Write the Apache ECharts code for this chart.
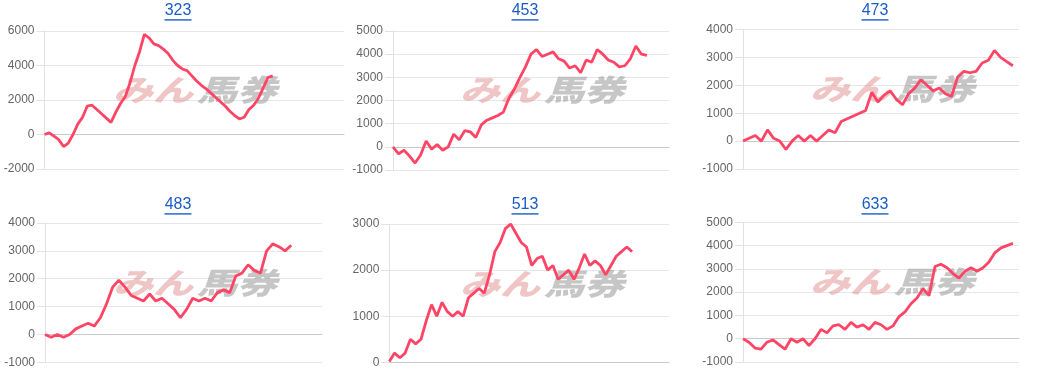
<!DOCTYPE html>
<html><head><meta charset="utf-8">
<script src="https://cdn.jsdelivr.net/npm/echarts@6/dist/echarts.min.js"></script>
<style>html,body{margin:0;padding:0;background:#fff}#c{width:1050px;height:386px}</style>
</head><body><div id="c"></div>
<script>
// ---- data ----
const titles = ['323', '453', '473', '483', '513', '633'];
const slotCounts = [64, 51, 46, 46, 54, 47];
const s323 = [0,100,-100,-300,-700,-500,0,600,1000,1650,1700,1450,1200,950,700,1300,1800,2200,3000,4000,4800,5800,5600,5250,5150,4950,4700,4300,4000,3800,3700,3400,3100,2850,2650,2400,2150,1900,1650,1350,1100,900,1000,1450,1700,2100,2700,3300,3400];
const s453 = [0,-300,-150,-400,-700,-350,250,-100,100,-150,0,550,300,700,650,400,950,1150,1250,1350,1500,2100,2500,3000,3450,4000,4200,3900,4000,4100,3800,3700,3400,3500,3200,3750,3650,4200,4000,3750,3650,3450,3500,3800,4350,4000,3950];
const s473 = [0,100,200,0,400,100,0,-300,0,200,0,200,0,200,400,300,700,800,900,1000,1100,1750,1400,1650,1800,1500,1300,1700,1900,2200,2000,1800,1900,1700,1600,2300,2500,2450,2500,2800,2900,3250,3000,2850,2700];
const s483 = [0,-100,0,-100,0,200,300,400,300,600,1100,1700,1950,1700,1400,1300,1200,1450,1200,1300,1100,900,600,900,1300,1200,1300,1200,1500,1600,1500,2100,2200,2500,2300,2200,3000,3250,3150,3000,3200];
const s513 = [20,200,100,200,500,400,500,900,1250,1000,1300,1100,1000,1100,1000,1400,1500,1600,1500,1900,2400,2600,2900,3000,2800,2600,2500,2100,2250,2300,2000,2100,1800,1900,2000,1800,2050,2350,2100,2200,2100,1900,2100,2300,2400,2500,2400];
const s633 = [0,-150,-400,-450,-150,-50,-250,-450,0,-150,0,-300,0,400,250,550,600,400,700,500,600,400,700,600,400,550,950,1150,1500,1750,2150,1850,3100,3200,3050,2800,2600,2900,3050,2900,3050,3300,3700,3900,4000,4100];
const seriesData = [s323, s453, s473, s483, s513, s633];
const yMin = [-2000, -1000, -1000, -1000, 0, -1000];
const yMax = [6000, 5000, 4000, 4000, 3000, 5000];
const yStep = [2000, 1000, 1000, 1000, 1000, 1000];
const wmPink = 'みん';
const wmGray = '馬券';

// ---- layout ----
const grids = [
  {left: 44.5, top: 31, width: 299.5, height: 138},
  {left: 393, top: 31, width: 276, height: 139},
  {left: 743, top: 29.5, width: 276, height: 139.5},
  {left: 45, top: 223, width: 277, height: 139.3},
  {left: 389.3, top: 224, width: 279.7, height: 138.3},
  {left: 743, top: 222.3, width: 276, height: 139.7}
];
const titlePos = [[178, 11], [525, 11], [875, 11], [178, 205], [525, 205], [875, 205]];
const wmPos = [[195, 90], [542, 90], [892, 88.5], [195, 283], [542, 284], [892, 282]];

const LINE = '#ff4566';
const graphic = [];
titles.forEach((t, i) => {
  const [cx, cy] = titlePos[i];
  graphic.push({type: 'text', x: cx, y: cy, z: 10,
    style: {text: t, fill: '#1a5dc7', font: '16px "Liberation Sans", Arial, sans-serif', align: 'center', verticalAlign: 'middle'}});
  graphic.push({type: 'rect', shape: {x: cx - 13.5, y: cy + 8.2, width: 27, height: 1.4}, z: 10,
    style: {fill: '#1a5dc7'}});
  const [wx, wy] = wmPos[i];
  graphic.push({type: 'text', x: wx - 42, y: wy, scaleY: 0.74, z: 1,
    style: {text: wmPink, fill: 'rgba(226,150,150,0.55)', font: 'italic 900 40px "Noto Sans CJK JP", sans-serif', align: 'center', verticalAlign: 'middle'}});
  graphic.push({type: 'text', x: wx + 42, y: wy, scaleY: 0.74, z: 1,
    style: {text: wmGray, fill: 'rgba(160,160,160,0.6)', font: 'italic 900 40px "Noto Sans CJK JP", sans-serif', align: 'center', verticalAlign: 'middle'}});
});

const option = {
  backgroundColor: '#fff',
  animation: false,
  grid: grids.map(g => Object.assign({containLabel: false}, g)),
  xAxis: seriesData.map((d, i) => ({
    type: 'category', gridIndex: i, boundaryGap: false,
    data: Array.from({length: slotCounts[i]}, (_, k) => String(k + 1)),
    axisLabel: {show: false}, axisTick: {show: false}, splitLine: {show: false},
    axisLine: {show: true, onZero: true, lineStyle: {color: '#c9c9c9', width: 1}}
  })),
  yAxis: seriesData.map((d, i) => ({
    type: 'value', gridIndex: i, min: yMin[i], max: yMax[i], interval: yStep[i],
    axisLine: {show: true, lineStyle: {color: '#e2e2e2'}},
    axisTick: {show: true, length: 8, lineStyle: {color: '#e2e2e2'}},
    splitLine: {show: true, lineStyle: {color: '#e6e6e6'}},
    axisLabel: {color: '#666', fontSize: 12, margin: 10, fontFamily: '"Liberation Sans", Arial, sans-serif',
      formatter: v => String(v)}
  })),
  series: seriesData.map((d, i) => ({
    type: 'line', xAxisIndex: i, yAxisIndex: i, data: d, z: 5,
    showSymbol: false, symbol: 'none', smooth: false,
    lineStyle: {color: LINE, width: 2.8}, itemStyle: {color: LINE}
  })),
  graphic: graphic
};
const chart = echarts.init(document.getElementById('c'), null, {renderer: 'canvas'});
chart.setOption(option);
</script></body></html>
